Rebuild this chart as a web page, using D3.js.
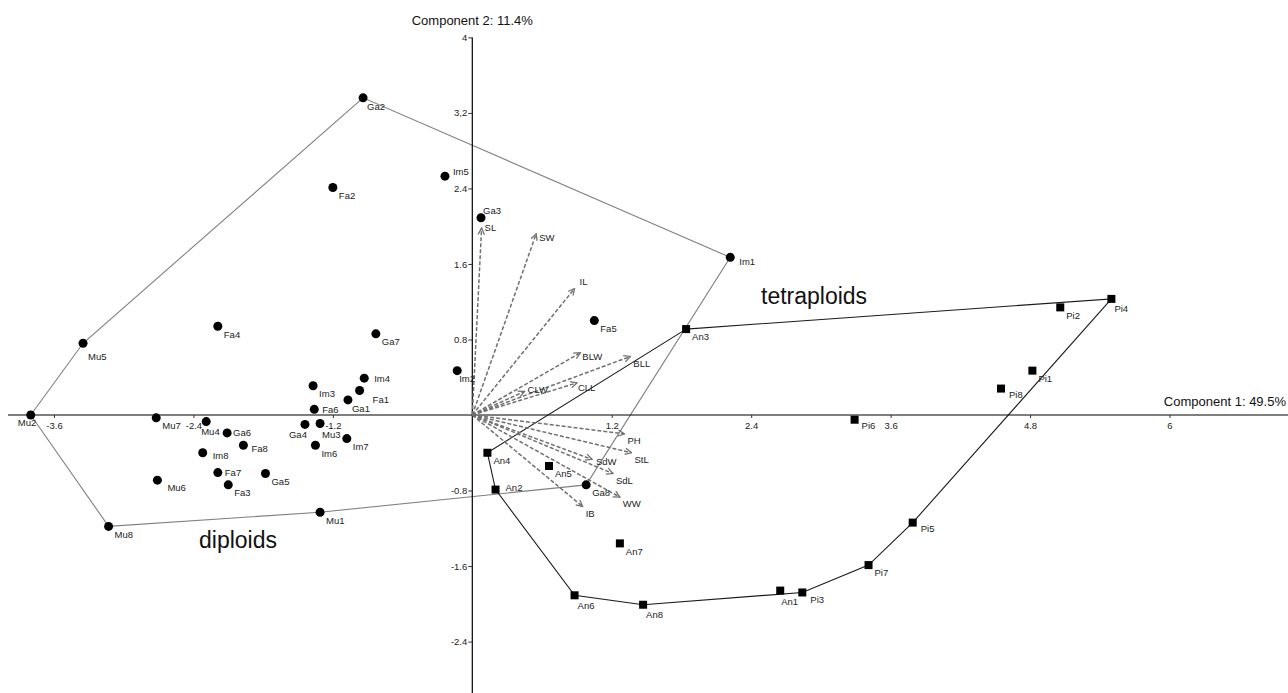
<!DOCTYPE html>
<html>
<head>
<meta charset="utf-8">
<script src="https://cdn.jsdelivr.net/npm/d3@7"></script>
<style>
  html, body { margin: 0; padding: 0; background: #fff; }
  svg { display: block; }
  text { font-family: "Liberation Sans", Arial, sans-serif; }
</style>
</head>
<body>
<svg id="chart" width="1288" height="693"></svg>
<script>
// ---------- data ----------
const diploidNames = ["Mu2","Mu5","Ga2","Fa2","Im5","Ga3","Im1","Fa4","Ga7","Fa5","Im2","Im4","Im3","Fa1","Ga1","Fa6","Mu7","Mu4","Ga4","Mu3","Ga6","Im7","Fa8","Im6","Im8","Fa7","Ga5","Mu6","Fa3","Mu1","Mu8","Ga8"];
const diploidPC1 = [-3.80,-3.35,-0.94,-1.20,-0.235,0.075,2.22,-2.19,-0.83,1.05,-0.13,-0.93,-1.37,-0.97,-1.07,-1.36,-2.72,-2.29,-1.44,-1.31,-2.11,-1.08,-1.97,-1.35,-2.32,-2.19,-1.78,-2.71,-2.10,-1.31,-3.13,0.98];
const diploidPC2 = [0.00,0.76,3.36,2.41,2.53,2.09,1.67,0.94,0.86,1.00,0.47,0.39,0.31,0.26,0.16,0.06,-0.03,-0.07,-0.10,-0.09,-0.19,-0.25,-0.32,-0.32,-0.40,-0.61,-0.62,-0.69,-0.74,-1.03,-1.18,-0.74];
const diploidHull = ["Mu2","Mu5","Ga2","Im1","Ga8","Mu1","Mu8","Mu2"];

const tetraNames = ["An4","An2","An5","An7","An3","An6","An8","An1","Pi3","Pi7","Pi5","Pi6","Pi8","Pi1","Pi2","Pi4"];
const tetraPC1 = [0.13,0.20,0.66,1.27,1.84,0.88,1.47,2.65,2.84,3.41,3.79,3.29,4.55,4.82,5.06,5.50];
const tetraPC2 = [-0.40,-0.79,-0.54,-1.36,0.91,-1.91,-2.01,-1.86,-1.88,-1.59,-1.14,-0.05,0.28,0.47,1.14,1.23];
const tetraHull = ["An3","Pi4","Pi5","Pi7","Pi3","An8","An6","An2","An4","An3"];

const loadingNames = ["SL","SW","IL","BLW","BLL","CLL","CLW","PH","StL","SdW","SdL","WW","IB"];
const loadingPC1 = [0.08,0.55,0.88,0.93,1.36,0.90,0.45,1.31,1.37,1.03,1.21,1.27,0.95];
const loadingPC2 = [1.98,1.92,1.34,0.66,0.62,0.34,0.25,-0.20,-0.40,-0.47,-0.62,-0.87,-0.97];

const xTicks = [-3.6,-2.4,-1.2,1.2,2.4,3.6,4.8,6];
const xTickLabels = ["-3.6","-2.4","-1.2","1.2","2.4","3.6","4.8","6"];
const yTicks = [-2.4,-1.6,-0.8,0.8,1.6,2.4,3.2,4];
const yTickLabels = ["-2.4","-1.6","-0.8","0.8","1.6","2.4","3,2","4"];

const xTitle = "Component 1: 49.5%";
const yTitle = "Component 2: 11.4%";
const groupLabels = ["diploids","tetraploids"];

// ---------- layout ----------
const svg = d3.select("#chart");
const x = d3.scaleLinear().domain([-4, 7]).range([7.5, 1285.7]);
const y = d3.scaleLinear().domain([-3, 4]).range([698.2, 37.4]);

// label placement tweaks [dx from point, dy of text centre]
const defaultOffset = [6, 8];
const labelAdjust = {
  Mu2:[-13,8], Ga4:[-16,10], Mu4:[-5,10], Ga6:[6,0], Fa7:[7,0], Fa6:[8,0], Im4:[10,0],
  Im5:[8,-4], Ga3:[2,-7], An2:[10,-2], Im1:[9,4], Fa1:[13,9], Ga1:[4,9], Mu3:[2,11],
  An6:[3,10], An8:[3,10], An1:[1,11], Pi4:[3,10], Im2:[2,8], Fa8:[8,3], Im8:[10,3],
  Mu6:[10,8], Mu5:[5,13], Ga2:[4,9], Im3:[6,8], Pi3:[8,7], Pi5:[8,6], Pi6:[7,6], Pi8:[8,6]
};
const loadLabelAdjust = { SL:[3,0], IL:[5,-7], CLW:[3,-2], SdW:[4,2], BLW:[2,4], CLL:[1,5], SW:[3,4] };
const loadDefault = [3,7];

const diploids = diploidNames.map((n,i)=>({name:n, px:diploidPC1[i], py:diploidPC2[i]}));
const tetras = tetraNames.map((n,i)=>({name:n, px:tetraPC1[i], py:tetraPC2[i]}));
const loadings = loadingNames.map((n,i)=>({name:n, px:loadingPC1[i], py:loadingPC2[i]}));
const lookup = {};
diploids.concat(tetras).forEach(d=>lookup[d.name]=d);

const line = d3.line().x(d=>x(lookup[d].px)).y(d=>y(lookup[d].py));

// hulls
svg.append("path").attr("d", line(diploidHull)).attr("fill","none")
  .attr("stroke","#808080").attr("stroke-width",1.1);
svg.append("path").attr("d", line(tetraHull)).attr("fill","none")
  .attr("stroke","#1a1a1a").attr("stroke-width",1.1);

// axes lines
svg.append("line").attr("x1",8).attr("x2",1288).attr("y1",y(0)).attr("y2",y(0))
  .attr("stroke","#000").attr("stroke-width",1.2);
svg.append("line").attr("x1",x(0)).attr("x2",x(0)).attr("y1",y(4)).attr("y2",693)
  .attr("stroke","#000").attr("stroke-width",1.2);

const xAxis = svg.append("g").attr("transform",`translate(0,${y(0)})`)
  .call(d3.axisBottom(x).tickValues(xTicks).tickFormat((d,i)=>xTickLabels[i]).tickSize(3).tickPadding(4));
const yAxis = svg.append("g").attr("transform",`translate(${x(0)},0)`)
  .call(d3.axisLeft(y).tickValues(yTicks).tickFormat((d,i)=>yTickLabels[i]).tickSize(4).tickPadding(1));
[xAxis,yAxis].forEach(g=>{
  g.select(".domain").remove();
  g.selectAll("text").attr("font-size",9.5).attr("fill","#222").attr("font-family","Liberation Sans, Arial, sans-serif");
  g.selectAll("line").attr("stroke","#333");
});

// axis titles
svg.append("text").attr("x",x(0)).attr("y",25).attr("text-anchor","middle")
  .attr("font-size",13).attr("fill","#111").text(yTitle);
svg.append("text").attr("x",1286).attr("y",406).attr("text-anchor","end")
  .attr("font-size",13).attr("fill","#111").text(xTitle);

// loadings
const defs = svg.append("defs");
defs.append("marker").attr("id","arrow").attr("viewBox","0 0 10 10")
  .attr("refX",9).attr("refY",5).attr("markerWidth",8).attr("markerHeight",8)
  .attr("markerUnits","userSpaceOnUse").attr("orient","auto")
  .append("path").attr("d","M1,1 L9,5 L1,9").attr("fill","none")
  .attr("stroke","#707070").attr("stroke-width",1.6);

svg.append("g").selectAll("line").data(loadings).join("line")
  .attr("x1",x(0)).attr("y1",y(0))
  .attr("x2",d=>x(d.px)).attr("y2",d=>y(d.py))
  .attr("stroke","#707070").attr("stroke-width",1.5)
  .attr("stroke-dasharray","4,2").attr("marker-end","url(#arrow)");

svg.append("g").selectAll("text").data(loadings).join("text")
  .attr("x",d=>x(d.px)+(loadLabelAdjust[d.name]||loadDefault)[0])
  .attr("y",d=>y(d.py)+(loadLabelAdjust[d.name]||loadDefault)[1])
  .attr("dy","0.35em").attr("font-size",9.5).attr("fill","#222").text(d=>d.name);

// points
svg.append("g").selectAll("circle").data(diploids).join("circle")
  .attr("cx",d=>x(d.px)).attr("cy",d=>y(d.py)).attr("r",4.5).attr("fill","#000");
svg.append("g").selectAll("rect").data(tetras).join("rect")
  .attr("x",d=>x(d.px)-4).attr("y",d=>y(d.py)-4).attr("width",8).attr("height",8).attr("fill","#000");

// point labels
svg.append("g").selectAll("text").data(diploids.concat(tetras)).join("text")
  .attr("x",d=>x(d.px)+(labelAdjust[d.name]||defaultOffset)[0])
  .attr("y",d=>y(d.py)+(labelAdjust[d.name]||defaultOffset)[1])
  .attr("dy","0.35em").attr("font-size",9.5).attr("fill","#222").text(d=>d.name);

// group labels
svg.append("text").attr("x",199).attr("y",548).attr("font-family","Open Sans, sans-serif")
  .attr("font-size",23).attr("fill","#111").text(groupLabels[0]);
svg.append("text").attr("x",761).attr("y",304).attr("font-family","Open Sans, sans-serif")
  .attr("font-size",23).attr("fill","#111").text(groupLabels[1]);
</script>
</body>
</html>
